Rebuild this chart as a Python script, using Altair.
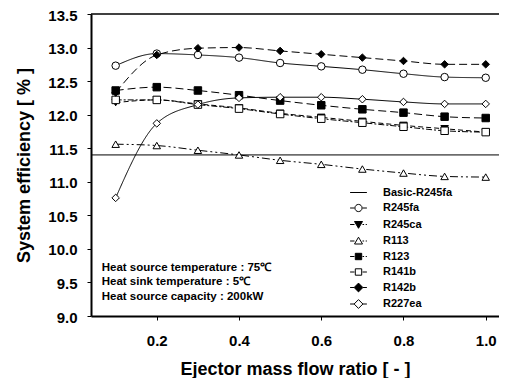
import altair as alt
import pandas as pd

# ---- data ----
ratio = [0.1, 0.2, 0.3, 0.4, 0.5, 0.6, 0.7, 0.8, 0.9, 1.0]
series_names = ["R245fa", "R245ca", "R113", "R123", "R141b", "R142b", "R227ea"]
r245fa = [12.73, 12.91, 12.89, 12.85, 12.77, 12.72, 12.67, 12.61, 12.56, 12.55]
r245ca = [12.18, 12.22, 12.16, 12.10, 12.02, 11.96, 11.90, 11.84, 11.79, 11.74]
r113 = [11.56, 11.54, 11.47, 11.40, 11.32, 11.26, 11.19, 11.13, 11.08, 11.07]
r123 = [12.36, 12.41, 12.36, 12.29, 12.21, 12.14, 12.08, 12.03, 11.97, 11.95]
r141b = [12.22, 12.22, 12.15, 12.09, 12.01, 11.94, 11.88, 11.82, 11.76, 11.74]
r142b = [12.33, 12.89, 12.99, 13.00, 12.95, 12.90, 12.85, 12.80, 12.75, 12.75]
r227ea = [10.76, 11.87, 12.15, 12.25, 12.26, 12.26, 12.23, 12.19, 12.16, 12.16]
basic_name = "Basic-R245fa"
basic_value = [11.40]
notes = ["Heat source temperature : 75\u2103",
         "Heat sink temperature : 5\u2103",
         "Heat source capacity : 200kW"]
note_x = [0.066, 0.066, 0.066]
note_y = [9.71, 9.50, 9.28]
x_ticks = [0.2, 0.4, 0.6, 0.8, 1.0]
y_ticks = [9.0, 9.5, 10.0, 10.5, 11.0, 11.5, 12.0, 12.5, 13.0, 13.5]

values = [r245fa, r245ca, r113, r123, r141b, r142b, r227ea]
rows = []
for name, vals in zip(series_names, values):
    for x, y in zip(ratio, vals):
        rows.append({"ratio": x, "eff": y, "series": name})
df = pd.DataFrame(rows)
basic_df = pd.DataFrame({"eff": basic_value})
frame_df = pd.DataFrame({"eff": [max(y_ticks)]})
notes_df = pd.DataFrame({"text": notes, "ratio": note_x, "eff": note_y})
legend_names = [basic_name] + series_names
legend_df = pd.DataFrame({"Legend": legend_names})

FONT = "Liberation Sans"

# ---- styles ----
dash_range = [[1, 0], [5, 3], [8, 3, 2, 3, 2, 3], [8, 4], [6, 2, 2, 2], [8, 4], [1, 0]]
shape_range = ["circle", "triangle-down", "triangle-up", "square", "square", "diamond", "diamond"]
fill_range = ["white", "black", "white", "black", "white", "black", "white"]

solid_l = "M-2.1,0H-1M1,0H2.1"
dash_l = "M-2.1,0H-1M1,0H1.4M1.8,0H2.1"
circ = "M0.9,0A0.9,0.9 0 1,1 -0.9,0A0.9,0.9 0 1,1 0.9,0Z"
tri_d = "M-1,-0.75H1L0,0.95Z"
tri_u = "M-1,0.75H1L0,-0.95Z"
sq = "M-0.8,-0.8H0.8V0.8H-0.8Z"
dia = "M0,-1.1L1.1,0L0,1.1L-1.1,0Z"
legend_shapes = [
    "M-2.1,0H2.1",
    solid_l + circ,
    dash_l + tri_d,
    dash_l + tri_u,
    dash_l + sq,
    solid_l + sq,
    "M-2.1,0H-1.1M1.1,0H2.1" + dia,
    "M-2.1,0H-1.1M1.1,0H2.1" + dia,
]
legend_fills = ["transparent", "white", "black", "white", "black", "white", "black", "white"]
legend_strokes = ["black"] * 8

xscale = alt.Scale(domain=[0.04, 1.0323], nice=False, zero=False)
yscale = alt.Scale(domain=[9.0, 13.5], nice=False, zero=False)

x_axis = alt.Axis(title="Ejector mass flow ratio [ - ]", values=x_ticks, format=".1f",
                  grid=False, tickSize=4, tickColor="black", domainColor="black",
                  domainWidth=2, labelPadding=13, titlePadding=12,
                  labelFont=FONT, labelFontSize=15, labelFontWeight="bold",
                  labelColor="black", titleFont=FONT, titleFontSize=18,
                  titleFontWeight="bold", titleColor="black", labelOverlap=False)
y_axis = alt.Axis(title="System efficiency [ % ]", values=y_ticks, format=".1f",
                  grid=False, tickSize=4, tickColor="black", domainColor="black",
                  domainWidth=2, labelPadding=10, titlePadding=14, labelOffset=1,
                  labelFont=FONT, labelFontSize=15, labelFontWeight="bold",
                  labelColor="black", titleFont=FONT, titleFontSize=18,
                  titleFontWeight="bold", titleColor="black", labelOverlap=False)

X = alt.X("ratio:Q", scale=xscale, axis=x_axis)
Y = alt.Y("eff:Q", scale=yscale, axis=y_axis)

base = alt.Chart(df)

lines = base.mark_line(color="black", strokeWidth=1, interpolate="monotone").encode(
    x=X, y=Y,
    strokeDash=alt.StrokeDash("series:N", scale=alt.Scale(domain=series_names, range=dash_range),
                              legend=None),
    detail="series:N",
)

points = base.mark_point(filled=True, stroke="black", strokeWidth=1, size=56, opacity=1).encode(
    x=X, y=Y,
    shape=alt.Shape("series:N", scale=alt.Scale(domain=series_names, range=shape_range), legend=None),
    fill=alt.Fill("series:N", scale=alt.Scale(domain=series_names, range=fill_range), legend=None),
)

basic_rule = alt.Chart(basic_df).mark_rule(color="black", strokeWidth=1).encode(y=Y)

top_frame = alt.Chart(frame_df).mark_rule(color="black", strokeWidth=1.5).encode(y=Y)

note_text = alt.Chart(notes_df).mark_text(
    align="left", baseline="middle", font=FONT, fontSize=11.5, fontWeight="bold", color="black"
).encode(x=X, y=Y, text="text:N")

leg = alt.Legend(title=None, orient="none", legendX=262, legendY=173, padding=0,
                 symbolSize=64, symbolStrokeWidth=1, symbolStrokeColor="black",
                 symbolOpacity=1, labelFont=FONT, labelFontSize=11, labelFontWeight="bold",
                 labelColor="black", labelOffset=19, rowPadding=3.5)

legend_layer = alt.Chart(legend_df).mark_point(filled=True, strokeWidth=1).encode(
    shape=alt.Shape("Legend:N", scale=alt.Scale(domain=legend_names, range=legend_shapes), legend=leg),
    fill=alt.Fill("Legend:N", scale=alt.Scale(domain=legend_names, range=legend_fills), legend=leg),
    stroke=alt.Stroke("Legend:N", scale=alt.Scale(domain=legend_names, range=legend_strokes), legend=leg),
).transform_filter("false")

chart = alt.layer(lines, top_frame, basic_rule, points, note_text, legend_layer).resolve_scale(
    shape="independent", fill="independent", stroke="independent"
).properties(
    width=408, height=302,
    autosize=alt.AutoSizeParams(type="none"),
    padding={"left": 83, "top": 6, "right": 0, "bottom": 62},
).configure_view(stroke=None)

chart.save("out.html", embed_options={"renderer": "svg", "actions": False})
